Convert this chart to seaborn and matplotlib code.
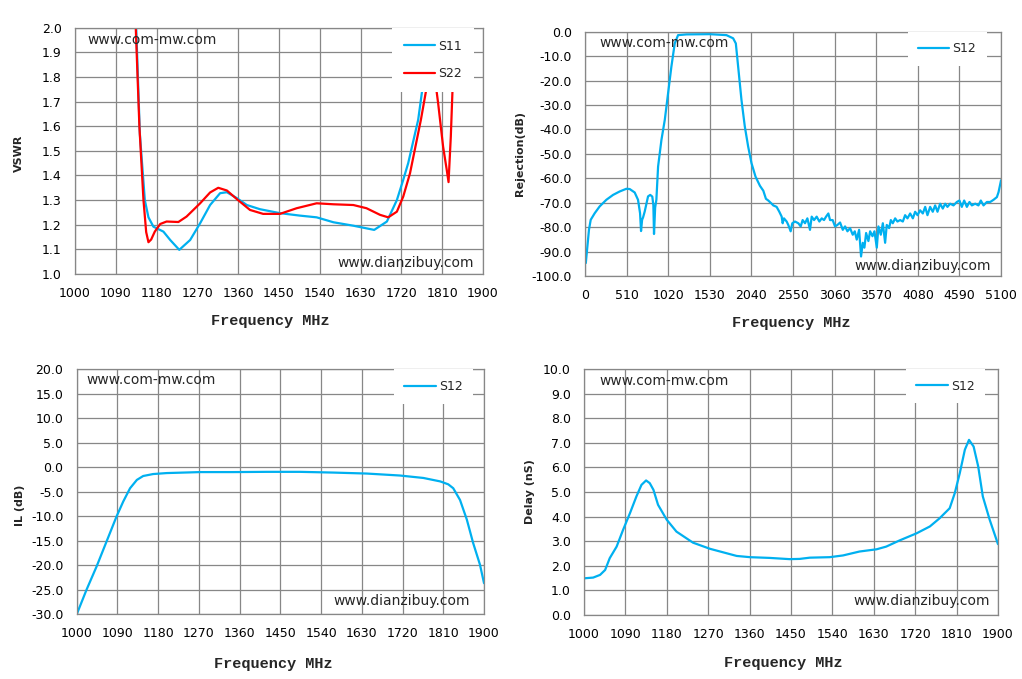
import matplotlib
matplotlib.use("Agg")
import matplotlib.pyplot as plt
import seaborn as sns

# ---- values ----
band_ticks = [1000, 1090, 1180, 1270, 1360, 1450, 1540, 1630, 1720, 1810, 1900]
wide_ticks = [0, 510, 1020, 1530, 2040, 2550, 3060, 3570, 4080, 4590, 5100]
vswr_ticks = [1.0, 1.1, 1.2, 1.3, 1.4, 1.5, 1.6, 1.7, 1.8, 1.9, 2.0]
rej_ticks = [-100, -90, -80, -70, -60, -50, -40, -30, -20, -10, 0]
il_ticks = [-30, -25, -20, -15, -10, -5, 0, 5, 10, 15, 20]
delay_ticks = [0, 1, 2, 3, 4, 5, 6, 7, 8, 9, 10]

s11_freq = [1128, 1135, 1143, 1154, 1162, 1173, 1195, 1210, 1230, 1254, 1276,
            1298, 1320, 1335, 1357, 1379, 1408, 1452, 1496, 1533, 1570, 1614,
            1660, 1688, 1710, 1724, 1735, 1757, 1767, 1787, 1800]
s11_vswr = [2.40, 2.00, 1.57, 1.30, 1.23, 1.192, 1.172, 1.138, 1.098, 1.138, 1.206,
            1.28, 1.328, 1.332, 1.308, 1.28, 1.263, 1.247, 1.237, 1.23, 1.21, 1.196,
            1.179, 1.213, 1.30, 1.382, 1.45, 1.626, 1.761, 1.992, 2.30]

s22_freq = [1128, 1134, 1142, 1151, 1157, 1162, 1168, 1176, 1188, 1202, 1228,
            1246, 1276, 1298, 1316, 1335, 1357, 1386, 1415, 1452, 1489, 1533,
            1570, 1614, 1643, 1673, 1691, 1710, 1724, 1739, 1763, 1776, 1790,
            1801, 1812, 1820, 1824, 1829, 1833, 1838, 1842]
s22_vswr = [2.40, 2.00, 1.60, 1.30, 1.17, 1.129, 1.14, 1.172, 1.203, 1.213, 1.211,
            1.233, 1.287, 1.331, 1.35, 1.339, 1.304, 1.26, 1.244, 1.244, 1.267, 1.287,
            1.283, 1.28, 1.267, 1.24, 1.23, 1.253, 1.314, 1.409, 1.626, 1.761, 1.85,
            1.694, 1.517, 1.423, 1.373, 1.558, 1.761, 1.992, 2.20]

rej_freq = [10, 29, 49, 70, 119, 180, 262, 344, 425, 507, 548, 609, 650, 675, 687,
            700, 712, 732, 773, 800, 825, 838, 846, 860, 875, 896, 937, 978, 1018,
            1059, 1100, 1141, 1243, 1530, 1734, 1816, 1849, 1877, 1918, 1959, 2000,
            2041, 2090, 2145, 2186, 2218, 2247, 2288, 2308, 2349, 2382, 2411, 2423,
            2439, 2472, 2492, 2521, 2541, 2574, 2615, 2644, 2668, 2697, 2726, 2758,
            2779, 2808, 2840, 2873, 2902, 2930, 2955, 2983, 3004, 3036, 3065, 3094,
            3127, 3160, 3188, 3217, 3249, 3282, 3307, 3331, 3360, 3384, 3405, 3425,
            3446, 3474, 3495, 3524, 3548, 3577, 3597, 3626, 3651, 3679, 3699, 3728,
            3749, 3773, 3802, 3830, 3863, 3896, 3924, 3953, 3986, 4019, 4047, 4076,
            4108, 4141, 4170, 4198, 4231, 4263, 4292, 4321, 4353, 4386, 4415, 4443,
            4476, 4517, 4558, 4590, 4619, 4648, 4681, 4713, 4742, 4783, 4823, 4852,
            4885, 4926, 4967, 5008, 5049, 5069, 5100]
rej_db = [-94.7, -87.9, -81.0, -77.0, -74.3, -71.5, -68.8, -66.8, -65.4, -64.3,
          -64.4, -65.8, -68.8, -74.3, -81.6, -77.0, -76.0, -73.6, -67.4, -66.8,
          -67.5, -71.0, -82.8, -72.0, -68.8, -55.2, -44.3, -36.1, -25.2, -14.3,
          -4.8, -1.4, -1.1, -1.0, -1.4, -2.7, -4.8, -14.3, -27.9, -38.8, -47.0,
          -53.8, -59.3, -63.1, -65.1, -68.4, -69.1, -70.4, -71.1, -71.7, -73.7,
          -75.7, -78.4, -76.4, -77.7, -79.1, -81.7, -78.4, -77.7, -78.4, -79.7,
          -77.1, -78.4, -76.4, -81.1, -75.7, -77.1, -75.7, -77.7, -76.4, -77.1,
          -75.7, -74.4, -77.1, -77.1, -79.7, -79.1, -78.1, -81.1, -79.7, -81.7,
          -80.4, -83.1, -81.7, -85.1, -81.1, -92.0, -86.4, -88.4, -82.4, -85.7,
          -81.7, -83.7, -81.7, -88.4, -79.7, -83.1, -78.4, -86.4, -79.1, -80.4,
          -77.1, -78.4, -76.4, -77.7, -77.1, -77.7, -75.1, -76.4, -74.4, -76.4,
          -73.7, -75.1, -73.1, -74.4, -71.7, -75.1, -71.7, -73.7, -71.1, -73.7,
          -70.4, -72.4, -70.4, -71.7, -70.4, -71.1, -69.7, -69.1, -71.7, -69.1,
          -71.7, -69.7, -71.1, -70.4, -71.1, -69.1, -71.1, -69.7, -69.7, -68.8,
          -67.7, -65.7, -60.8]

il_freq = [1000, 1022, 1044, 1066, 1088, 1103, 1118, 1133, 1147, 1169, 1199, 1273,
           1346, 1420, 1493, 1567, 1641, 1714, 1766, 1803, 1821, 1832, 1847, 1862,
           1876, 1891, 1900]
il_db = [-30.1, -25.0, -20.3, -15.2, -10.1, -7.0, -4.3, -2.6, -1.8, -1.4, -1.2, -1.0,
         -1.0, -0.95, -0.95, -1.1, -1.3, -1.7, -2.2, -2.9, -3.5, -4.3, -6.7, -10.7,
         -15.5, -19.9, -23.7]

delay_freq = [1000, 1020, 1035, 1046, 1056, 1071, 1085, 1100, 1114, 1125, 1135, 1143,
              1151, 1161, 1180, 1201, 1237, 1274, 1310, 1332, 1361, 1404, 1447, 1469,
              1491, 1534, 1563, 1599, 1636, 1657, 1686, 1723, 1752, 1773, 1795, 1806,
              1817, 1828, 1837, 1847, 1857, 1867, 1882, 1900]
delay_ns = [1.49, 1.52, 1.63, 1.83, 2.31, 2.78, 3.46, 4.14, 4.82, 5.29, 5.47, 5.36,
            5.09, 4.48, 3.87, 3.39, 2.94, 2.69, 2.51, 2.40, 2.35, 2.32, 2.27, 2.28,
            2.33, 2.35, 2.42, 2.58, 2.67, 2.78, 3.03, 3.32, 3.60, 3.93, 4.34, 4.95,
            5.77, 6.72, 7.12, 6.85, 6.04, 4.82, 3.87, 2.88]

# ---- style ----
sns.set_style("white")
plt.rcParams["font.family"] = ["DejaVu Sans"]

BLUE = "#00B0F0"
RED = "#FF0000"
GRID = "#878787"

fig = plt.figure(figsize=(10.22, 6.79), dpi=100)
ax_vswr = fig.add_axes([0.0734, 0.5965, 0.3992, 0.3627])
ax_rej = fig.add_axes([0.5724, 0.5935, 0.4071, 0.3598])
ax_il = fig.add_axes([0.0750, 0.0957, 0.3986, 0.3604])
ax_dly = fig.add_axes([0.5714, 0.0943, 0.4051, 0.3622])


def style_ax(ax, xticks, yticks, ylabel, ylabel_xy, xlabel_xy, legend_x,
             mw_xy, dz_xy, labelspacing=1.0, borderpad=0.85):
    ax.set_xlim(xticks[0], xticks[-1])
    ax.set_ylim(yticks[0], yticks[-1])
    ax.set_xticks(xticks, labels=[str(t) for t in xticks])
    ax.set_yticks(yticks, labels=[f"{t:.1f}" for t in yticks])
    ax.grid(True, color=GRID, linewidth=0.9)
    ax.set_axisbelow(True)
    for sp in ax.spines.values():
        sp.set_color(GRID)
        sp.set_linewidth(0.9)
    ax.tick_params(direction="out", length=3.5, width=0.9, color=GRID,
                   labelsize=9, pad=6, labelcolor="black")
    ax.set_xlabel("Frequency MHz", family="Liberation Mono", weight="bold",
                  size=11, va="center")
    ax.xaxis.set_label_coords(*xlabel_xy)
    ax.set_ylabel(ylabel, weight="bold", size=8, va="center")
    ax.yaxis.set_label_coords(*ylabel_xy)
    ax.text(mw_xy[0], mw_xy[1], "www.com-mw.com", transform=ax.transAxes,
            ha="left", va="center", size=10, zorder=6)
    ax.text(dz_xy[0], dz_xy[1], "www.dianzibuy.com", transform=ax.transAxes,
            ha="right", va="center", size=10, zorder=6)
    ax.legend(loc="upper right", bbox_to_anchor=(legend_x, 1.0), frameon=True,
              facecolor="white", edgecolor="none", framealpha=1, fancybox=False,
              fontsize=9, handlelength=2.5, handletextpad=0.25,
              labelspacing=labelspacing, borderpad=borderpad, borderaxespad=0)


sns.lineplot(x=s11_freq, y=s11_vswr, ax=ax_vswr, color=BLUE, linewidth=1.6,
             label="S11", sort=False, estimator=None)
sns.lineplot(x=s22_freq, y=s22_vswr, ax=ax_vswr, color=RED, linewidth=1.6,
             label="S22", sort=False, estimator=None)
style_ax(ax_vswr, band_ticks, vswr_ticks, "VSWR", (-0.137, 0.488),
         (0.478, -0.191), 0.978, (0.031, 0.951), (0.978, 0.045),
         labelspacing=1.15, borderpad=0.95)

sns.lineplot(x=rej_freq, y=rej_db, ax=ax_rej, color=BLUE, linewidth=1.6,
             label="S12", sort=False, estimator=None)
style_ax(ax_rej, wide_ticks, rej_ticks, "Rejection(dB)", (-0.156, 0.503),
         (0.495, -0.192), 0.966, (0.034, 0.955), (0.975, 0.041))

sns.lineplot(x=il_freq, y=il_db, ax=ax_il, color=BLUE, linewidth=1.6,
             label="S12", sort=False, estimator=None)
style_ax(ax_il, band_ticks, il_ticks, "IL (dB)", (-0.139, 0.445),
         (0.482, -0.204), 0.973, (0.025, 0.956), (0.966, 0.054))

sns.lineplot(x=delay_freq, y=delay_ns, ax=ax_dly, color=BLUE, linewidth=1.6,
             label="S12", sort=False, estimator=None)
style_ax(ax_dly, band_ticks, delay_ticks, "Delay (nS)", (-0.130, 0.500),
         (0.481, -0.195), 0.969, (0.037, 0.951), (0.981, 0.058))

fig.savefig("out.png", dpi=100, facecolor="white")
